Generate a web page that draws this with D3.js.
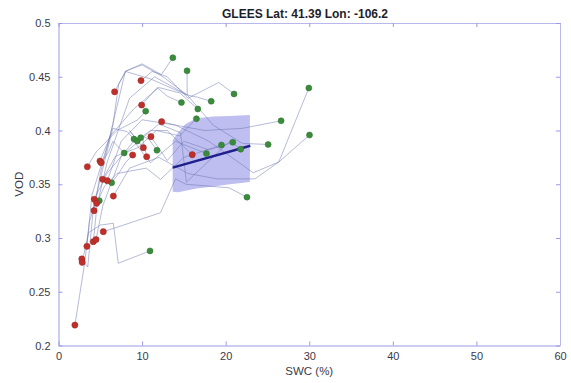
<!DOCTYPE html>
<html>
<head>
<meta charset="utf-8">
<script src="https://cdn.jsdelivr.net/npm/d3@7"></script>
<style>
  html, body { margin: 0; padding: 0; background: #fff; }
  svg { display: block; font-family: "Liberation Sans", Arial, Helvetica, sans-serif; }
</style>
</head>
<body>
<svg id="chart" width="571" height="383"></svg>
<script>
// Site and axis text
const title = "GLEES Lat: 41.39 Lon: -106.2";
const xLabel = "SWC (%)";
const yLabel = "VOD";
const xTicks = [0, 10, 20, 30, 40, 50, 60];
const yTicks = [0.2, 0.25, 0.3, 0.35, 0.4, 0.45, 0.5];

// Drydown trajectories: each is a list of [SWC, VOD] pairs,
// first pair = start of the event, last pair = end of the event
const trajectories = [
  [[1.96, 0.219], [3.1, 0.275], [3.7, 0.315], [4.3, 0.33], [4.88, 0.3347]],
  [[2.79, 0.2805], [3.5, 0.273], [4.2, 0.33], [6.5, 0.402], [8.2, 0.399], [9.03, 0.392]],
  [[2.83, 0.2774], [3.6, 0.305], [5.0, 0.312], [6.56, 0.3137], [7.15, 0.2765], [10.95, 0.288]],
  [[3.4, 0.2923], [4.0, 0.34], [6.0, 0.39], [8.0, 0.455], [10.0, 0.462], [12.3, 0.452], [13.68, 0.4677]],
  [[3.45, 0.3663], [4.5, 0.38], [7.0, 0.40], [9.5, 0.41], [10.43, 0.418]],
  [[4.17, 0.2966], [4.6, 0.33], [5.8, 0.37], [8.5, 0.43], [11.5, 0.45], [15.4, 0.433], [16.6, 0.431], [18.27, 0.4272]],
  [[4.49, 0.2986], [5.3, 0.33], [7.5, 0.376], [12.0, 0.406], [14.6, 0.398], [15.3, 0.352], [20.5, 0.39], [21.8, 0.3826]],
  [[5.36, 0.3059], [7.0, 0.31], [12.2, 0.3235], [14.0, 0.355], [15.25, 0.35], [20.4, 0.3467], [22.55, 0.338]],
  [[4.25, 0.3254], [5.0, 0.36], [6.5, 0.405], [7.2, 0.443], [8.1, 0.4555], [10.0, 0.461], [12.5, 0.45], [15.4, 0.433], [15.38, 0.4555]],
  [[4.28, 0.336], [5.8, 0.36], [9.0, 0.39], [11.0, 0.37], [14.0, 0.39], [17.7, 0.3785]],
  [[4.57, 0.3323], [5.5, 0.348], [7.0, 0.36], [10.5, 0.365], [12.2, 0.3545], [15.0, 0.375], [19.5, 0.3865]],
  [[4.96, 0.3716], [6.2, 0.395], [9.0, 0.42], [12.0, 0.44], [14.5, 0.435], [16.67, 0.420]],
  [[5.1, 0.370], [6.0, 0.38], [6.5, 0.39], [7.86, 0.3791]],
  [[5.28, 0.3546], [6.8, 0.376], [9.5, 0.384], [11.7, 0.40], [14.5, 0.395], [16.5, 0.411]],
  [[5.84, 0.3533], [7.5, 0.39], [10.0, 0.41], [14.0, 0.405], [18.0, 0.39], [23.3, 0.3607], [26.36, 0.3707], [29.95, 0.4395]],
  [[6.56, 0.339], [8.5, 0.365], [12.0, 0.375], [15.5, 0.36], [19.0, 0.355], [23.5, 0.355], [26.36, 0.3707], [30.03, 0.3958]],
  [[6.71, 0.436], [8.0, 0.455], [11.0, 0.448], [15.4, 0.433], [18.5, 0.405], [22.0, 0.388], [25.08, 0.387]],
  [[9.87, 0.4464], [11.2, 0.455], [13.0, 0.45], [15.5, 0.43], [19.17, 0.4447], [21.0, 0.434]],
  [[9.95, 0.4237], [11.8, 0.44], [13.0, 0.432], [14.71, 0.426]],
  [[12.34, 0.4082], [14.0, 0.405], [17.5, 0.40], [22.0, 0.402], [26.63, 0.409]],
  [[11.06, 0.3943], [13.0, 0.372], [15.0, 0.39], [18.0, 0.382], [20.85, 0.389]],
  [[10.15, 0.384], [8.5, 0.40], [9.0, 0.395], [9.43, 0.3902]],
  [[8.87, 0.3772], [8.0, 0.37], [7.2, 0.36], [6.36, 0.3514]],
  [[10.55, 0.3756], [10.0, 0.395], [10.8, 0.392], [11.78, 0.3816]],
  [[16.0, 0.3775], [13.0, 0.40], [11.0, 0.40], [9.83, 0.3933]]
];

// Mean response: fitted line and its spread
const fitSwc = [13.66, 22.95];
const fitVod = [0.3654, 0.3858];
const bandSwc   = [13.66, 14.3, 15.2, 16.5, 18.5, 20.5, 22.9];
const bandUpper = [0.391, 0.398, 0.406, 0.4115, 0.413, 0.4135, 0.4145];
const bandLower = [0.343, 0.3425, 0.344, 0.346, 0.348, 0.350, 0.352];

const plot = { left: 58.5, right: 560, top: 23, bottom: 345.5 };

const svg = d3.select("#chart");
const x = d3.scaleLinear().domain([0, 60]).range([plot.left, plot.right]);
const y = d3.scaleLinear().domain([0.2, 0.5]).range([plot.bottom, plot.top]);

const axisColor = "#9a9ae4";
const textColor = "#3a3a4a";

// Spread band
const band = bandSwc.map((s, i) => ({ s, hi: bandUpper[i], lo: bandLower[i] }));
svg.append("path")
  .datum(band)
  .attr("fill", "#7878e0")
  .attr("fill-opacity", 0.48)
  .attr("d", d3.area().x(d => x(d.s)).y0(d => y(d.lo)).y1(d => y(d.hi)));

// Trajectory lines
const line = d3.line().x(d => x(d[0])).y(d => y(d[1]));
svg.append("g")
  .selectAll("path")
  .data(trajectories)
  .join("path")
  .attr("d", line)
  .attr("fill", "none")
  .attr("stroke", "#6a74ae")
  .attr("stroke-opacity", 0.55)
  .attr("stroke-width", 0.9);

// Fitted line
svg.append("path")
  .datum(fitSwc.map((s, i) => [s, fitVod[i]]))
  .attr("d", line)
  .attr("fill", "none")
  .attr("stroke", "#20208c")
  .attr("stroke-width", 2.4);

// End points (green) and start points (red)
svg.append("g")
  .selectAll("circle")
  .data(trajectories.map(t => t[t.length - 1]))
  .join("circle")
  .attr("cx", d => x(d[0]))
  .attr("cy", d => y(d[1]))
  .attr("r", 3.0)
  .attr("fill", "#3a8c3c")
  .attr("stroke", "#2c6e2e")
  .attr("stroke-width", 0.5);

svg.append("g")
  .selectAll("circle")
  .data(trajectories.map(t => t[0]))
  .join("circle")
  .attr("cx", d => x(d[0]))
  .attr("cy", d => y(d[1]))
  .attr("r", 3.1)
  .attr("fill", "#c0302a")
  .attr("stroke", "#9a2420")
  .attr("stroke-width", 0.5);

// Axes (box with inward ticks on all sides)
function styleAxis(g, showText) {
  g.select(".domain").attr("stroke", axisColor).attr("stroke-width", 1);
  g.selectAll(".tick line").attr("stroke", axisColor);
  g.selectAll(".tick text")
    .attr("fill", textColor)
    .attr("font-size", 11)
    .style("display", showText ? null : "none");
}

const xFmt = d3.format("d");
const yFmt = d => String(+d.toFixed(2));

svg.append("g")
  .attr("transform", `translate(0,${plot.bottom})`)
  .call(d3.axisBottom(x).tickValues(xTicks).tickFormat(xFmt).tickSizeInner(-4).tickSizeOuter(0).tickPadding(7))
  .call(g => styleAxis(g, true));

svg.append("g")
  .attr("transform", `translate(0,${plot.top})`)
  .call(d3.axisTop(x).tickValues(xTicks).tickSizeInner(-4).tickSizeOuter(0))
  .call(g => styleAxis(g, false))
  .call(g => g.select(".domain").attr("stroke", "#b8b8ea"));

svg.append("g")
  .attr("transform", `translate(${plot.left},0)`)
  .call(d3.axisLeft(y).tickValues(yTicks).tickFormat(yFmt).tickSizeInner(-4).tickSizeOuter(0).tickPadding(8))
  .call(g => styleAxis(g, true));

svg.append("g")
  .attr("transform", `translate(${plot.right},0)`)
  .call(d3.axisRight(y).tickValues(yTicks).tickSizeInner(-4).tickSizeOuter(0))
  .call(g => styleAxis(g, false))
  .call(g => g.select(".domain").attr("stroke", "#b8b8ea"));

// Title and axis labels
svg.append("text")
  .attr("x", 305).attr("y", 18)
  .attr("text-anchor", "middle")
  .attr("font-size", 12)
  .attr("font-weight", "bold")
  .attr("fill", "#1e1e2a")
  .text(title);

svg.append("text")
  .attr("x", (plot.left + plot.right) / 2).attr("y", 375)
  .attr("text-anchor", "middle")
  .attr("font-size", 11.5)
  .attr("fill", textColor)
  .text(xLabel);

svg.append("text")
  .attr("transform", `translate(23,${(plot.top + plot.bottom) / 2}) rotate(-90)`)
  .attr("text-anchor", "middle")
  .attr("font-size", 11.5)
  .attr("fill", textColor)
  .text(yLabel);
</script>
</body>
</html>
